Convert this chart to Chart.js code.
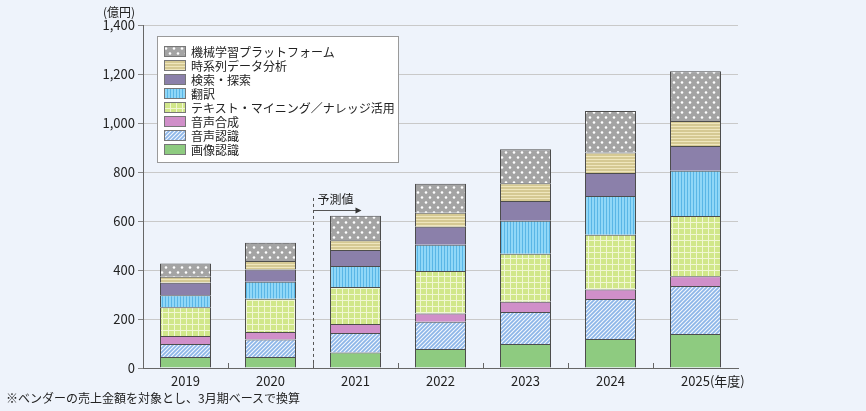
<!DOCTYPE html>
<html>
<head>
<meta charset="utf-8">
<script src="https://cdn.jsdelivr.net/npm/chart.js@4"></script>
<style>
  body { margin: 0; background: #eef3fb; font-family: "Noto Sans CJK JP", "Noto Sans", sans-serif; }
  #wrap { position: relative; width: 866px; height: 411px; }
  #legend { position: absolute; left: 157px; top: 36px; width: 242px; height: 127px; background: #fff; border: 1px solid #9a9a9a; padding-top: 7px; box-sizing: border-box; }
  .item { display: flex; align-items: center; height: 14px; font-size: 12px; color: #222; padding-left: 6px; }
  .item canvas { margin-right: 5px; }
  #note { position: absolute; left: 6px; top: 389px; font-size: 12px; color: #222; }
</style>
</head>
<body>
<div id="wrap">
  <canvas id="chart"></canvas>
  <div id="legend"></div>
  <div id="note">※ベンダーの売上金額を対象とし、3月期ベースで換算</div>
</div>
<script>
const years = ['2019', '2020', '2021', '2022', '2023', '2024', '2025'];
const seriesNames = ['画像認識', '音声認識', '音声合成', 'テキスト・マイニング／ナレッジ活用', '翻訳', '検索・探索', '時系列データ分析', '機械学習プラットフォーム'];
const imageRec    = [45, 45, 63, 78, 98, 118, 139];
const speechRec   = [53, 71, 80, 111, 131, 164, 196];
const speechSyn   = [33, 31, 37, 33, 41, 38, 40];
const textMining  = [117, 136, 151, 174, 196, 224, 245];
const translation = [49, 69, 85, 107, 135, 158, 185];
const search      = [51, 50, 66, 74, 81, 94, 101];
const timeSeries  = [24, 35, 39, 57, 72, 84, 102];
const mlPlatform  = [55, 74, 100, 118, 139, 169, 203];
const yTicks = [0, 200, 400, 600, 800, 1000, 1200, 1400];
const forecastFrom = 2; // 2021から予測値

// 塗りパターン
function makePattern(kind) {
    const c = document.createElement('canvas');
    const g = c.getContext('2d');
    if (kind === 'dots') {
        c.width = 8; c.height = 10;
        g.fillStyle = '#a4a4a4'; g.fillRect(0, 0, 8, 10);
        g.fillStyle = '#ffffff';
        [[2, 2.5], [6, 7.5]].forEach(p => { g.beginPath(); g.arc(p[0], p[1], 1.3, 0, Math.PI * 2); g.fill(); });
    } else if (kind === 'hstripe') {
        c.width = 4; c.height = 3;
        g.fillStyle = '#d5c993'; g.fillRect(0, 0, 4, 3);
        g.fillStyle = '#efe6bd'; g.fillRect(0, 0, 4, 1);
    } else if (kind === 'vstripe') {
        c.width = 3; c.height = 4;
        g.fillStyle = '#90d7f7'; g.fillRect(0, 0, 3, 4);
        g.fillStyle = '#5ab6e6'; g.fillRect(0, 0, 1, 4);
    } else if (kind === 'grid') {
        c.width = 6; c.height = 6;
        g.fillStyle = '#d1e78a'; g.fillRect(0, 0, 6, 6);
        g.fillStyle = '#f1f7d4'; g.fillRect(0, 0, 6, 1); g.fillRect(0, 0, 1, 6);
    } else if (kind === 'hatch') {
        c.width = 4; c.height = 4;
        g.fillStyle = '#8db6e8'; g.fillRect(0, 0, 4, 4);
        g.strokeStyle = '#f4f8fd'; g.lineWidth = 1.1;
        g.beginPath();
        g.moveTo(-1, 5); g.lineTo(5, -1);
        g.moveTo(-1, 1); g.lineTo(1, -1);
        g.moveTo(3, 5); g.lineTo(5, 3);
        g.stroke();
    }
    return g.createPattern(c, 'repeat');
}

const seriesData = [imageRec, speechRec, speechSyn, textMining, translation, search, timeSeries, mlPlatform];
const fills = ['#8ecb80', makePattern('hatch'), '#d08fc9', makePattern('grid'), makePattern('vstripe'), '#8b80aa', makePattern('hstripe'), makePattern('dots')];

const datasets = seriesNames.map((name, i) => ({
    label: name,
    data: seriesData[i],
    backgroundColor: fills[i],
    borderColor: '#4d4d4d',
    borderWidth: 1,
    categoryPercentage: 0.6,
    barPercentage: 1
}));

// 予測値の破線・矢印、x軸の目盛り、単位
const extras = {
    id: 'extras',
    afterDraw(chart) {
        const ctx = chart.ctx;
        const x = chart.scales.x, y = chart.scales.y;
        const base = y.getPixelForValue(0);
        ctx.save();
        ctx.strokeStyle = '#666';
        ctx.lineWidth = 1;
        for (let i = 1; i < years.length; i++) {
            const bx = Math.round((x.getPixelForValue(i - 1) + x.getPixelForValue(i)) / 2) + 0.5;
            ctx.beginPath(); ctx.moveTo(bx, base); ctx.lineTo(bx, base - 5); ctx.stroke();
        }
        const fx = Math.round((x.getPixelForValue(forecastFrom - 1) + x.getPixelForValue(forecastFrom)) / 2) + 0.5;
        ctx.strokeStyle = '#555';
        ctx.setLineDash([3, 3]);
        ctx.beginPath(); ctx.moveTo(fx, y.getPixelForValue(694)); ctx.lineTo(fx, base); ctx.stroke();
        ctx.setLineDash([]);
        const ay = Math.round(y.getPixelForValue(645)) + 0.5;
        ctx.beginPath(); ctx.moveTo(fx, ay); ctx.lineTo(fx + 43, ay); ctx.stroke();
        ctx.fillStyle = '#333';
        ctx.beginPath(); ctx.moveTo(fx + 48, ay); ctx.lineTo(fx + 42, ay - 3); ctx.lineTo(fx + 42, ay + 3); ctx.closePath(); ctx.fill();
        ctx.font = '12px "Noto Sans CJK JP"';
        ctx.fillStyle = '#222';
        ctx.textBaseline = 'middle';
        ctx.textAlign = 'left';
        ctx.fillText('予測値', fx + 4, y.getPixelForValue(690));
        ctx.textAlign = 'right';
        ctx.fillText('(億円)', y.right - 8, 12);
        ctx.font = '13px "Noto Sans CJK JP"';
        const last = years[years.length - 1];
        const lx = x.getPixelForValue(years.length - 1) + ctx.measureText(last).width / 2;
        ctx.textAlign = 'left';
        ctx.fillText('(年度)', lx, 381);
        ctx.restore();
    }
};

new Chart(document.getElementById('chart'), {
    type: 'bar',
    data: { labels: years, datasets: datasets },
    options: {
        responsive: true,
        maintainAspectRatio: false,
        animation: false,
        layout: { padding: { left: 0, right: 128, top: 25, bottom: 0 } },
        scales: {
            x: {
                stacked: true,
                grid: { display: true, drawOnChartArea: false, drawTicks: false },
                border: { color: '#666' },
                ticks: { color: '#222', font: { family: '"Noto Sans CJK JP"', size: 13 }, padding: 5 },
                afterFit: s => { s.height = 43; }
            },
            y: {
                stacked: true,
                min: 0,
                max: 1400,
                afterBuildTicks: s => { s.ticks = yTicks.map(v => ({ value: v })); },
                grid: { color: '#c9c9c9', tickLength: 5, tickColor: '#888' },
                border: { color: '#666' },
                ticks: { color: '#222', font: { family: '"Noto Sans CJK JP"', size: 13 }, padding: 3 },
                afterFit: s => { s.width = 143; }
            }
        },
        plugins: {
            legend: { display: false },
            tooltip: { enabled: false }
        }
    },
    plugins: [extras]
});

// 凡例 (上から積み上げの逆順)
const legend = document.getElementById('legend');
seriesNames.slice().reverse().forEach((name, k) => {
    const i = seriesNames.length - 1 - k;
    const row = document.createElement('div');
    row.className = 'item';
    const sw = document.createElement('canvas');
    sw.width = 22; sw.height = 11;
    const g = sw.getContext('2d');
    g.fillStyle = fills[i];
    g.fillRect(0, 0, 22, 11);
    g.strokeStyle = '#777';
    g.strokeRect(0.5, 0.5, 21, 10);
    row.appendChild(sw);
    const t = document.createElement('span');
    t.textContent = name;
    row.appendChild(t);
    legend.appendChild(row);
});
</script>
</body>
</html>
